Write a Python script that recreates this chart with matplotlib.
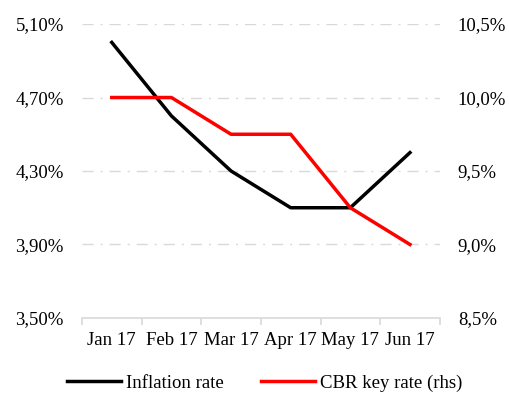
import matplotlib.pyplot as plt
from matplotlib.ticker import FuncFormatter

plt.rcParams['font.family'] = ['Liberation Serif', 'DejaVu Serif']

months = ['Jan 17', 'Feb 17', 'Mar 17', 'Apr 17', 'May 17', 'Jun 17']
inflation = [5.0, 4.6, 4.3, 4.1, 4.1, 4.4]
key_rate = [10.0, 10.0, 9.75, 9.75, 9.25, 9.0]

fig = plt.figure(figsize=(5.09, 3.94), dpi=100)
ax = fig.add_axes([0.161, 0.193, 0.703, 0.746])
ax2 = ax.twinx()

x = list(range(len(months)))
l1, = ax.plot(x, inflation, color='black', lw=2.5, label='Inflation rate')
l2, = ax2.plot(x, key_rate, color='#ff0000', lw=2.5, label='CBR key rate (rhs)')

ax.set_xlim(-0.5, len(months) - 0.5)
ax.set_ylim(3.5, 5.1)
ax.set_yticks([3.5, 3.9, 4.3, 4.7, 5.1])
ax.yaxis.set_major_formatter(FuncFormatter(lambda v, p: f'{v:.2f}%'.replace('.', ',')))
ax2.set_ylim(8.5, 10.5)
ax2.set_yticks([8.5, 9.0, 9.5, 10.0, 10.5])
ax2.yaxis.set_major_formatter(FuncFormatter(lambda v, p: f'{v:.1f}%'.replace('.', ',')))

for v in [3.9, 4.3, 4.7, 5.1]:
    ax.axhline(v, color='#d9d9d9', lw=1, ls=(0, (8, 5, 1.5, 5)), zorder=0)

fs = 13.5
for a in (ax, ax2):
    for s in ['left', 'right', 'top']:
        a.spines[s].set_visible(False)
    a.tick_params(axis='y', length=0, labelsize=fs, pad=13)
ax2.spines['bottom'].set_visible(False)
ax.spines['bottom'].set_color('#d9d9d9')
ax.spines['bottom'].set_linewidth(1.2)

ax.set_xticks(x)
ax.set_xticklabels(months)
ax.set_xticks([i - 0.5 for i in range(len(months) + 1)], minor=True)
ax.tick_params(axis='x', which='major', length=0, labelsize=fs, pad=10)
ax.tick_params(axis='x', which='minor', length=5, color='#d9d9d9', width=1.2)

fig.legend([l1, l2], ['Inflation rate', 'CBR key rate (rhs)'], loc='lower center',
           bbox_to_anchor=(0.52, -0.038), ncol=2, frameon=False, fontsize=fs,
           handlelength=2.9, handletextpad=0.25, columnspacing=2.0)

fig.savefig('out.png', dpi=100)
